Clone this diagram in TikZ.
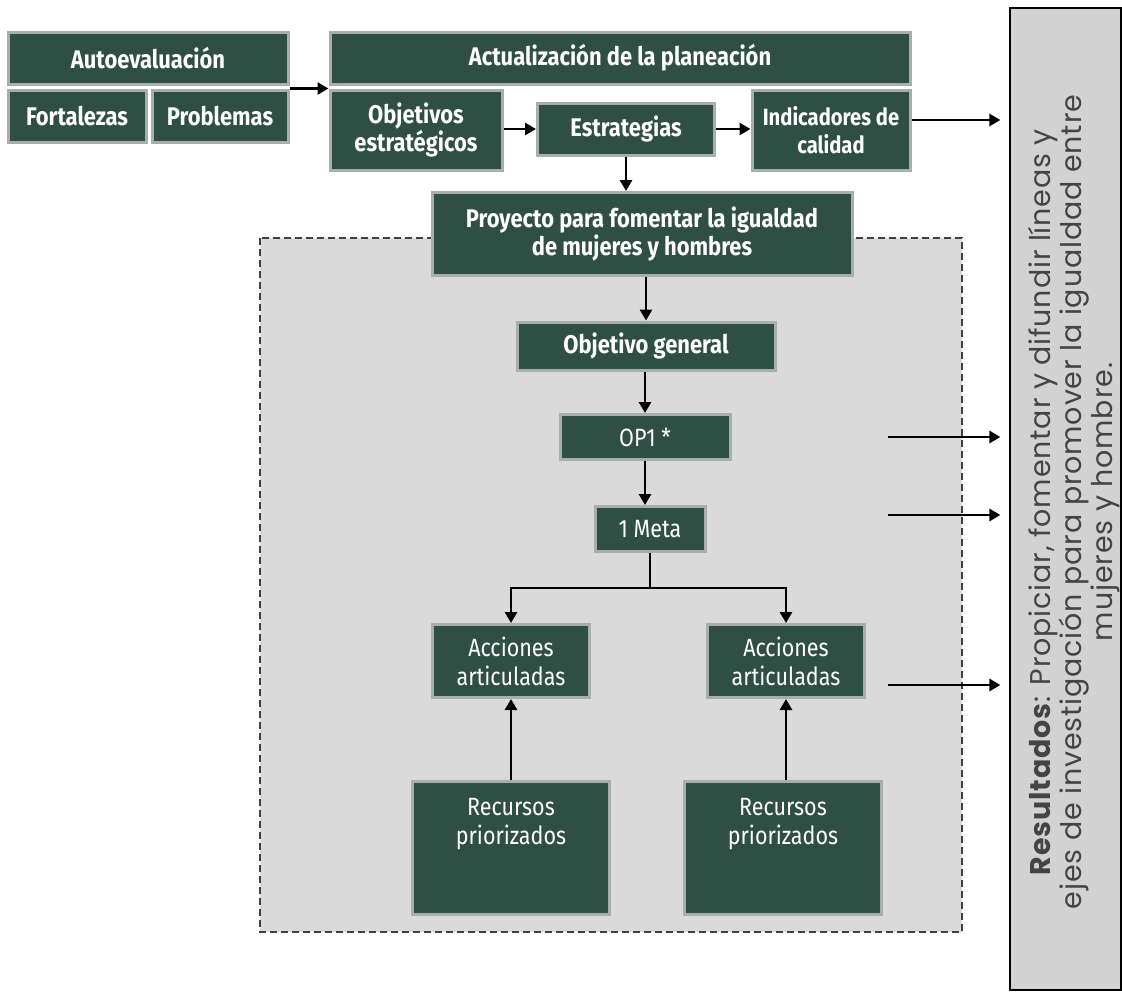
\documentclass[tikz,border=0pt]{standalone}
\usepackage{fontspec}
\setmainfont{Fira Sans}
\newfontfamily\boxfont[FakeStretch=0.86]{Fira Sans}
\newfontfamily\resfont[LetterSpace=3]{Poppins}
\usetikzlibrary{arrows.meta,calc}
\definecolor{boxgreen}{HTML}{2F4F45}
\definecolor{boxrim}{HTML}{A8AEAA}
\definecolor{zone}{HTML}{DADADA}
\definecolor{resfill}{HTML}{D2D2D2}
\definecolor{restext}{HTML}{444444}
\begin{document}
\begin{tikzpicture}[x=1pt,y=-1pt,
  gbox/.style={draw=boxrim, line width=3pt, fill=boxgreen, text=white, inner sep=0pt,
    align=center, font=\boxfont\fontsize{25.5}{28}\selectfont\bfseries},
  lbox/.style={gbox, font=\boxfont\fontsize{25}{29}\selectfont},
  arr/.style={line width=2.8pt, -{Triangle[length=11pt,width=12pt]}},
  ln/.style={line width=2.8pt}]
\useasboundingbox (0,0) rectangle (1122,994);
\fill[white] (0,0) rectangle (1122,994);
% dashed zone
\draw[fill=zone, draw=black!75, line width=1.3pt, dash pattern=on 7pt off 4pt] (260,238) rectangle (962,932);
% top row
\node[gbox, minimum width=280pt, minimum height=52pt] (auto) at (148,58) {Autoevaluación};
\node[gbox, minimum width=138pt, minimum height=52pt] (fort) at (77,116) {Fortalezas};
\node[gbox, minimum width=136pt, minimum height=52pt] (prob) at (220,116) {Problemas};
\node[gbox, minimum width=580pt, minimum height=52pt] (actual) at (620,58) {Actualización de la planeación};
\node[gbox, minimum width=172pt, minimum height=80pt] (obj) at (416,130) {Objetivos\\estratégicos};
\node[gbox, minimum width=177pt, minimum height=52pt] (estr) at (626,129) {Estrategias};
\node[gbox, font=\boxfont\fontsize{23.5}{28}\selectfont\bfseries, minimum width=158pt, minimum height=80pt] (ind) at (831,130) {Indicadores de\\calidad};
% results box
\node[draw=black, line width=1.2pt, fill=resfill, minimum width=111pt, minimum height=982pt, inner sep=0pt] (res) at (1065.5,499) {};
\node[rotate=90, text=restext, align=center, font=\resfont\fontsize{28.5}{26.5}\selectfont] (restxt) at (1074,502)
  {\textbf{Resultados}: Propiciar, fomentar y difundir líneas y\\ejes de investigación para promover la igualdad entre\\mujeres y hombre.};
% project
\node[gbox, minimum width=420pt, minimum height=83pt] (proy) at (642,234) {Proyecto para fomentar la igualdad\\de mujeres y hombres};
\node[gbox, minimum width=258pt, minimum height=48pt] (objg) at (646,346) {Objetivo general};
\node[lbox, minimum width=170pt, minimum height=45pt] (op1) at (645,437) {OP1 *};
\node[lbox, minimum width=110pt, minimum height=45pt] (meta) at (650,529) {1 Meta};
\node[lbox, minimum width=157pt, minimum height=73pt] (acc1) at (511,661) {Acciones\\articuladas};
\node[lbox, minimum width=157pt, minimum height=73pt] (acc2) at (786,661) {Acciones\\articuladas};
\node[lbox, minimum width=197pt, minimum height=133pt] (rec1) at (511,848) {Recursos\\priorizados\\[24pt]\mbox{}};
\node[lbox, minimum width=197pt, minimum height=133pt] (rec2) at (783,848) {Recursos\\priorizados\\[24pt]\mbox{}};
% connectors
\draw[arr] ([yshift=-3pt]auto.south east) -- ([yshift=-3pt]actual.south west);
\draw[arr] (obj.east |- estr) -- (estr.west);
\draw[arr] (estr.east) -- (estr.east -| ind.west);
\coordinate (indout) at ([yshift=10pt]ind.east);
\draw[arr] (indout) -- ([xshift=-9pt]indout -| res.west);
\draw[arr] (estr.south) -- (estr.south |- proy.north);
\draw[arr] (proy.south -| objg.north) -- (objg.north);
\draw[arr] (objg.south -| op1.north) -- (op1.north);
\draw[arr] (op1.south) -- (op1.south |- meta.north);
\coordinate (split) at (meta.south |- 0,588);
\draw[ln] (meta.south) -- (split);
\draw[arr] (split) -| (acc1.north);
\draw[arr] (split) -| (acc2.north);
\draw[arr] (rec1.north) -- (acc1.south);
\draw[arr] (rec2.north -| acc2.south) -- (acc2.south);
\coordinate (o1) at (888,437);
\coordinate (o2) at (888,515);
\coordinate (o3) at (888,685);
\draw[arr] (o1) -- ([xshift=-9pt]o1 -| res.west);
\draw[arr] (o2) -- ([xshift=-9pt]o2 -| res.west);
\draw[arr] (o3) -- ([xshift=-9pt]o3 -| res.west);
\end{tikzpicture}
\end{document}
